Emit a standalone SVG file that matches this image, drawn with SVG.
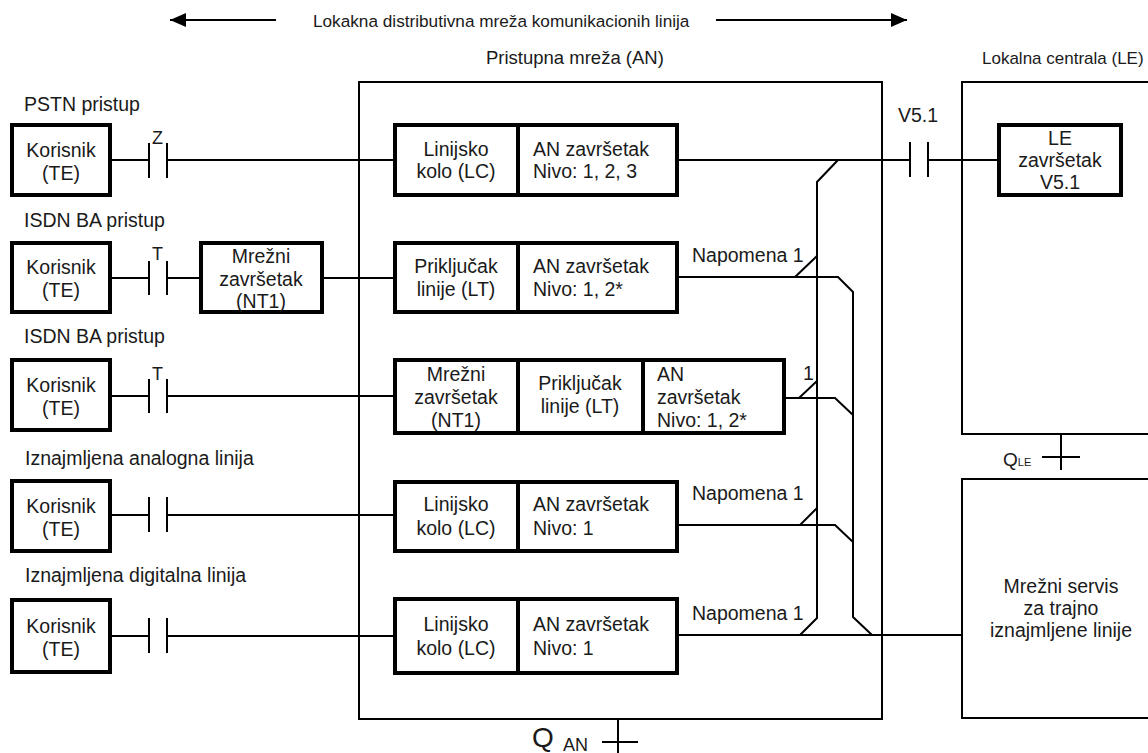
<svg xmlns="http://www.w3.org/2000/svg" width="1148" height="753" viewBox="0 0 1148 753">
<style>
.box{fill:#fff;stroke:#000;stroke-width:4}
.frame{fill:#fff;stroke:#000;stroke-width:2}
.ln{stroke:#000;stroke-width:2;fill:none}
text{font-family:"Liberation Sans",Arial,Helvetica,sans-serif;font-size:19.5px;fill:#1a1a1a}
.c{text-anchor:middle}
.sm{font-size:18px}
</style>
<defs>
<marker id="ah" markerWidth="16" markerHeight="14" refX="16" refY="7" orient="auto" markerUnits="userSpaceOnUse">
<path d="M0,0 L16,7 L0,14 Z" fill="#000"/>
</marker>
</defs>
<rect width="1148" height="753" fill="#fff"/>

<g id="title">
<line class="ln" x1="276" y1="20" x2="170" y2="20" marker-end="url(#ah)"/>
<line class="ln" x1="716" y1="20" x2="907" y2="20" marker-end="url(#ah)"/>
<text x="313" y="27" style="font-size:17.2px">Lokakna distributivna mreža komunikacionih linija</text>
</g>

<g id="an-network">
<rect class="frame" x="359" y="82" width="523" height="637"/>
<text x="486" y="64" style="font-size:18.5px">Pristupna mreža (AN)</text>
</g>
<g id="le-exchange">
<rect class="frame" x="962" y="82" width="190" height="352"/>
<text x="982" y="64" style="font-size:17px">Lokalna centrala (LE)</text>
</g>
<g id="leased-service">
<rect class="frame" x="962" y="479" width="190" height="239"/>
<text class="c" x="1061" y="593">Mrežni servis</text>
<text class="c" x="1061" y="615">za trajno</text>
<text class="c" x="1061" y="637">iznajmljene linije</text>
</g>

<g id="connectors">
<!-- row 1 -->
<line class="ln" x1="110" y1="160" x2="149" y2="160"/>
<line class="ln" x1="149" y1="143" x2="149" y2="178"/>
<line class="ln" x1="167" y1="143" x2="167" y2="178"/>
<line class="ln" x1="167" y1="160" x2="395" y2="160"/>
<line class="ln" x1="677" y1="160" x2="910" y2="160"/>
<line class="ln" x1="910" y1="142" x2="910" y2="177"/>
<line class="ln" x1="928" y1="142" x2="928" y2="177"/>
<line class="ln" x1="928" y1="160" x2="999" y2="160"/>
<!-- row 2 -->
<line class="ln" x1="110" y1="278" x2="149" y2="278"/>
<line class="ln" x1="149" y1="261" x2="149" y2="295"/>
<line class="ln" x1="167" y1="261" x2="167" y2="295"/>
<line class="ln" x1="167" y1="278" x2="201" y2="278"/>
<line class="ln" x1="322" y1="278" x2="395" y2="278"/>
<polyline class="ln" points="677,277 838,277 853,292 853,617 872,635"/>
<!-- row 3 -->
<line class="ln" x1="110" y1="396" x2="149" y2="396"/>
<line class="ln" x1="149" y1="379" x2="149" y2="413"/>
<line class="ln" x1="167" y1="379" x2="167" y2="413"/>
<line class="ln" x1="167" y1="396" x2="395" y2="396"/>
<polyline class="ln" points="784,398 835,398 853,415"/>
<!-- row 4 -->
<line class="ln" x1="110" y1="515" x2="149" y2="515"/>
<line class="ln" x1="149" y1="497" x2="149" y2="532"/>
<line class="ln" x1="167" y1="497" x2="167" y2="532"/>
<line class="ln" x1="167" y1="515" x2="395" y2="515"/>
<polyline class="ln" points="677,525 835,525 853,542"/>
<!-- row 5 -->
<line class="ln" x1="110" y1="636" x2="149" y2="636"/>
<line class="ln" x1="149" y1="618" x2="149" y2="653"/>
<line class="ln" x1="167" y1="618" x2="167" y2="653"/>
<line class="ln" x1="167" y1="636" x2="395" y2="636"/>
<line class="ln" x1="677" y1="635" x2="962" y2="635"/>
<!-- vertical bus A -->
<polyline class="ln" points="838,160 817,182 817,618 800,635"/>
<!-- ticks -->
<line class="ln" x1="795" y1="277" x2="817" y2="256"/>
<line class="ln" x1="799" y1="398" x2="817" y2="381"/>
<line class="ln" x1="800" y1="525" x2="817" y2="508"/>
<!-- Q interfaces -->
<line class="ln" x1="1061" y1="434" x2="1061" y2="470"/>
<line class="ln" x1="1042" y1="457" x2="1080" y2="457"/>
<line class="ln" x1="618" y1="719" x2="618" y2="753"/>
<line class="ln" x1="602" y1="742" x2="638" y2="742"/>
<!-- labels -->
<text class="sm" x="152" y="144">Z</text>
<text class="sm" x="152" y="260">T</text>
<text class="sm" x="152" y="380">T</text>
<text x="898" y="122">V5.1</text>
<text x="692" y="262">Napomena 1</text>
<text x="803" y="380">1</text>
<text x="692" y="500">Napomena 1</text>
<text x="692" y="620">Napomena 1</text>
<text x="1003" y="466" style="font-size:19px">Q<tspan style="font-size:11px">LE</tspan></text>
<text x="532" y="747" style="font-size:28px">Q</text>
<text x="563" y="751" style="font-size:18px">AN</text>
</g>

<g id="row1">
<text x="24" y="111">PSTN pristup</text>
<g id="te1"><rect class="box" x="12" y="125" width="98" height="70"/>
<text class="c" x="61" y="157">Korisnik</text><text class="c" x="61" y="180">(TE)</text></g>
<g id="lc1"><rect class="box" x="395" y="125" width="282" height="70"/>
<line x1="518" y1="125" x2="518" y2="195" stroke="#000" stroke-width="4"/>
<text class="c" x="456" y="156">Linijsko</text><text class="c" x="456" y="178">kolo (LC)</text>
<text x="533" y="156">AN završetak</text><text x="533" y="178">Nivo: 1, 2, 3</text></g>
<g id="le1"><rect class="box" x="999" y="125" width="122" height="70"/>
<text class="c" x="1060" y="145">LE</text><text class="c" x="1060" y="167">završetak</text><text class="c" x="1060" y="189">V5.1</text></g>
</g>

<g id="row2">
<text x="24" y="227">ISDN BA pristup</text>
<g id="te2"><rect class="box" x="12" y="243" width="98" height="69"/>
<text class="c" x="61" y="274">Korisnik</text><text class="c" x="61" y="297">(TE)</text></g>
<g id="nt1a"><rect class="box" x="201" y="243" width="121" height="69"/>
<text class="c" x="261" y="263">Mrežni</text><text class="c" x="261" y="286">završetak</text><text class="c" x="261" y="308">(NT1)</text></g>
<g id="lt2"><rect class="box" x="395" y="243" width="282" height="69"/>
<line x1="518" y1="243" x2="518" y2="312" stroke="#000" stroke-width="4"/>
<text class="c" x="456" y="273">Priključak</text><text class="c" x="456" y="296">linije (LT)</text>
<text x="533" y="273">AN završetak</text><text x="533" y="296">Nivo: 1, 2*</text></g>
</g>

<g id="row3">
<text x="24" y="343">ISDN BA pristup</text>
<g id="te3"><rect class="box" x="12" y="360" width="98" height="70"/>
<text class="c" x="61" y="392">Korisnik</text><text class="c" x="61" y="415">(TE)</text></g>
<g id="nt1b"><rect class="box" x="395" y="360" width="389" height="73"/>
<line x1="518" y1="360" x2="518" y2="433" stroke="#000" stroke-width="4"/>
<line x1="643" y1="360" x2="643" y2="433" stroke="#000" stroke-width="4"/>
<text class="c" x="456" y="381">Mrežni</text><text class="c" x="456" y="404">završetak</text><text class="c" x="456" y="427">(NT1)</text>
<text class="c" x="580" y="390">Priključak</text><text class="c" x="580" y="413">linije (LT)</text>
<text x="657" y="381">AN</text><text x="657" y="404">završetak</text><text x="657" y="427">Nivo: 1, 2*</text></g>
</g>

<g id="row4">
<text x="25" y="465">Iznajmljena analogna linija</text>
<g id="te4"><rect class="box" x="12" y="481" width="98" height="70"/>
<text class="c" x="61" y="513">Korisnik</text><text class="c" x="61" y="536">(TE)</text></g>
<g id="lc4"><rect class="box" x="395" y="482" width="282" height="69"/>
<line x1="518" y1="482" x2="518" y2="551" stroke="#000" stroke-width="4"/>
<text class="c" x="456" y="511">Linijsko</text><text class="c" x="456" y="535">kolo (LC)</text>
<text x="533" y="511">AN završetak</text><text x="533" y="535">Nivo: 1</text></g>
</g>

<g id="row5">
<text x="25" y="582">Iznajmljena digitalna linija</text>
<g id="te5"><rect class="box" x="12" y="600" width="98" height="72"/>
<text class="c" x="61" y="633">Korisnik</text><text class="c" x="61" y="656">(TE)</text></g>
<g id="lc5"><rect class="box" x="395" y="599" width="282" height="74"/>
<line x1="518" y1="599" x2="518" y2="673" stroke="#000" stroke-width="4"/>
<text class="c" x="456" y="631">Linijsko</text><text class="c" x="456" y="655">kolo (LC)</text>
<text x="533" y="631">AN završetak</text><text x="533" y="655">Nivo: 1</text></g>
</g>
</svg>
